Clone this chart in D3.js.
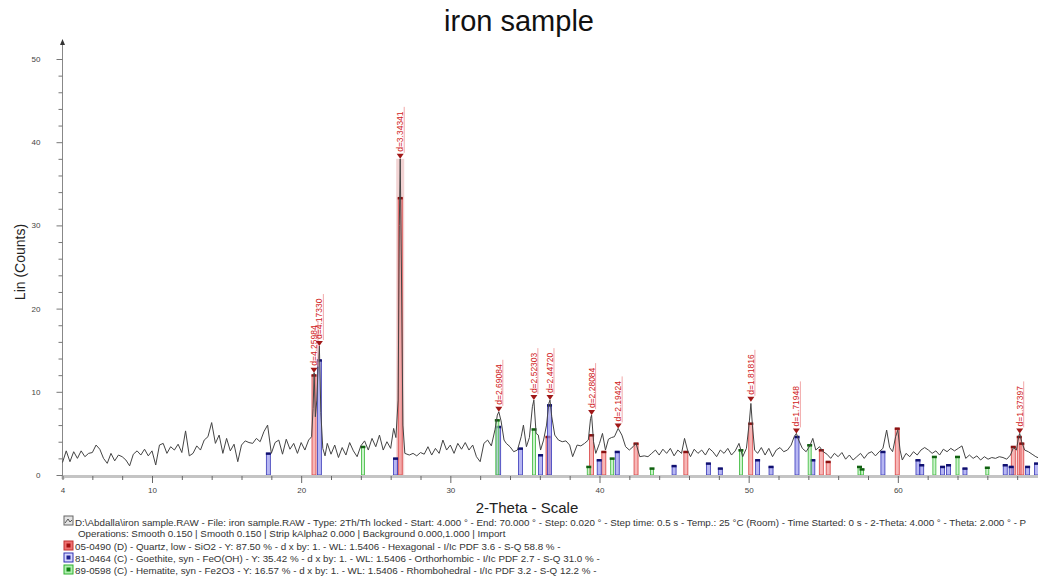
<!DOCTYPE html>
<html><head><meta charset="utf-8">
<script src="https://cdn.jsdelivr.net/npm/d3@7"></script>
<style>body{margin:0;background:#fff}svg{display:block;font-family:"Liberation Sans",Arial,sans-serif}</style>
</head><body>
<svg id="chart" width="1038" height="586"></svg>
<script>
// ---- data ----
const title = "iron sample";
const xLabel = "2-Theta - Scale";
const yLabel = "Lin (Counts)";
const xTickLabels = [4, 10, 20, 30, 40, 50, 60];
const yTickLabels = [0, 10, 20, 30, 40, 50];

// measured scan: [2-theta, counts]
const scan = [
[4.0,1.5],[4.25,2.9],[4.5,1.6],[4.75,2.8],[5.0,2.0],[5.25,2.9],[5.5,2.2],[5.75,2.6],
[6.0,2.7],[6.25,3.6],[6.5,3.1],[6.75,2.0],[7.0,1.4],[7.25,2.6],[7.5,1.7],[7.75,2.4],
[8.0,2.2],[8.25,1.8],[8.5,1.1],[8.75,2.5],[9.0,2.9],[9.25,2.4],[9.5,3.1],[9.75,2.3],
[10.0,2.9],[10.25,1.2],[10.5,3.6],[10.75,3.8],[11.0,2.6],[11.25,3.4],[11.5,3.0],[11.75,3.7],
[12.0,2.7],[12.25,5.3],[12.5,2.3],[12.75,2.6],[13.0,3.5],[13.25,3.0],[13.5,4.2],[13.75,4.6],
[14.0,6.3],[14.25,3.8],[14.5,4.8],[14.75,2.6],[15.0,4.4],[15.25,2.9],[15.5,3.7],[15.75,1.6],
[16.0,3.6],[16.25,4.1],[16.5,3.9],[16.75,3.8],[17.0,4.4],[17.25,4.0],[17.5,5.2],[17.75,6.0],
[18.0,2.6],[18.25,3.9],[18.5,4.2],[18.75,2.5],[19.0,4.3],[19.25,3.1],[19.5,3.8],[19.75,2.6],
[20.0,3.9],[20.25,3.0],[20.5,4.2],[20.7,4.6],[20.8,8.0],[20.87,12.3],[20.95,7.0],[21.05,9.0],
[21.15,13.8],[21.22,15.5],[21.32,7.5],[21.45,3.2],[21.6,2.3],[21.75,3.8],[22.0,2.5],[22.25,3.6],
[22.5,2.1],[22.75,3.3],[23.0,2.4],[23.25,3.9],[23.5,2.9],[23.75,2.2],[24.0,3.5],[24.25,4.1],
[24.5,3.0],[24.75,4.4],[25.0,3.4],[25.25,4.8],[25.5,3.0],[25.75,4.0],[26.0,3.2],[26.2,5.6],
[26.35,4.5],[26.5,9.0],[26.58,30.0],[26.64,38.0],[26.72,25.0],[26.82,6.0],[26.95,2.6],[27.25,2.4],
[27.5,2.6],[27.75,2.3],[28.0,2.7],[28.25,2.5],[28.5,3.4],[28.75,2.4],[29.0,3.2],[29.25,2.6],
[29.5,4.2],[29.75,3.0],[30.0,3.6],[30.25,2.6],[30.5,3.8],[30.75,3.1],[31.0,3.9],[31.25,3.0],
[31.5,3.6],[31.75,2.2],[32.0,1.6],[32.25,3.8],[32.5,4.2],[32.75,3.5],[33.0,5.5],[33.15,7.2],
[33.25,7.6],[33.4,6.5],[33.6,4.2],[33.75,3.8],[34.0,3.4],[34.25,2.8],[34.5,3.0],[34.75,4.6],
[34.9,6.0],[35.1,3.4],[35.3,4.5],[35.5,8.2],[35.6,9.0],[35.75,5.0],[35.9,4.8],[36.05,3.0],
[36.25,4.2],[36.45,6.0],[36.6,8.6],[36.68,9.0],[36.8,7.0],[37.0,4.8],[37.25,4.2],[37.5,4.0],
[37.75,4.1],[38.0,3.6],[38.2,2.2],[38.5,3.6],[38.75,3.5],[39.0,3.8],[39.25,4.2],[39.4,6.8],
[39.47,7.2],[39.6,4.0],[39.75,2.6],[40.0,3.8],[40.2,5.0],[40.4,3.0],[40.6,4.3],[40.8,4.5],
[41.0,4.6],[41.25,5.6],[41.5,4.8],[41.75,3.4],[42.0,3.0],[42.25,3.4],[42.45,3.8],[42.7,2.2],
[43.0,2.3],[43.25,2.2],[43.5,2.6],[43.75,3.0],[44.0,2.4],[44.25,3.1],[44.5,2.6],[44.75,3.2],
[45.0,2.3],[45.25,3.0],[45.5,2.6],[45.7,4.4],[45.9,3.0],[46.1,2.2],[46.35,3.1],[46.6,2.6],
[46.85,3.0],[47.1,2.4],[47.35,3.2],[47.6,2.8],[47.85,2.2],[48.1,3.0],[48.35,2.6],[48.6,3.2],
[48.85,2.4],[49.1,2.9],[49.35,3.8],[49.6,2.2],[49.85,3.2],[50.05,6.5],[50.15,8.6],[50.25,6.0],
[50.4,3.0],[50.6,2.6],[50.85,3.3],[51.1,2.4],[51.35,3.2],[51.6,2.2],[51.85,3.0],[52.1,3.3],
[52.35,2.8],[52.6,3.0],[52.85,3.6],[53.05,4.6],[53.2,5.0],[53.35,4.2],[53.6,3.2],[53.85,2.8],
[54.1,3.5],[54.3,4.4],[54.5,3.0],[54.75,3.4],[55.0,2.8],[55.25,2.5],[55.5,2.0],[55.75,2.6],
[56.0,2.2],[56.25,2.7],[56.5,1.9],[56.75,2.4],[57.0,1.8],[57.25,2.2],[57.5,2.6],[57.75,2.0],
[58.0,2.6],[58.25,2.8],[58.5,2.3],[58.75,2.8],[59.0,3.2],[59.25,5.4],[59.45,3.3],[59.65,2.8],
[59.85,4.6],[60.0,5.4],[60.15,3.0],[60.3,1.8],[60.55,2.6],[60.8,2.2],[61.05,2.8],[61.3,2.4],
[61.55,3.0],[61.8,3.3],[62.05,3.0],[62.3,2.6],[62.55,2.9],[62.8,2.4],[63.05,3.1],[63.3,2.8],
[63.55,3.2],[63.8,2.9],[64.05,3.2],[64.3,3.5],[64.55,2.0],[64.8,2.4],[65.05,2.0],[65.3,2.3],
[65.55,1.8],[65.8,2.2],[66.05,1.9],[66.3,2.1],[66.55,2.0],[66.8,2.2],[67.05,2.1],[67.3,1.9],
[67.55,2.4],[67.75,3.3],[67.95,3.0],[68.1,4.6],[68.17,5.0],[68.3,4.0],[68.5,3.0],[68.75,2.8],
[69.0,2.5],[69.25,2.2],[69.5,2.0],[69.75,2.3],[70.0,2.1]
];

// reference patterns: [2-theta, height]
const quartzSticks = [[20.86,12.0],[26.64,33.3],[36.55,4.6],[39.47,4.8],[40.29,2.8],[42.45,3.8],[45.79,2.8],
  [50.14,6.2],[54.87,3.0],[55.33,1.6],[59.96,5.6],[67.74,3.4],[68.14,4.6],[68.31,3.8]];
const goethiteSticks = [[17.8,2.6],[21.22,13.8],[26.33,2.0],[33.24,5.8],[34.7,3.2],[36.05,2.4],[36.65,8.4],
  [39.98,1.8],[41.19,2.8],[45.0,1.1],[47.3,1.4],[48.1,0.8],[50.6,1.8],[51.5,1.0],[53.24,4.6],[54.3,1.8],
  [59.0,2.8],[61.35,1.8],[61.6,1.2],[63.0,1.0],[63.4,1.2],[64.5,0.8],[67.2,1.2],[67.6,1.0],[68.7,1.0],[69.3,1.4]];
const hematiteSticks = [[24.14,3.4],[33.15,6.6],[35.61,5.5],[39.28,1.0],[40.85,2.0],[43.52,0.8],[49.48,3.0],
  [54.09,3.6],[57.43,1.0],[57.6,0.7],[62.45,2.2],[64.0,2.2],[66.0,0.9]];

// peak labels
const peakTheta  = [20.86, 21.22, 26.64, 33.25, 35.6, 36.68, 39.47, 41.25, 50.15, 53.2, 68.17];
const peakHeight = [12.3, 15.5, 38.0, 7.6, 9.0, 9.0, 7.2, 5.6, 8.8, 5.0, 5.0];
const peakText   = ["d=4.25984","d=4.17330","d=3.34341","d=2.69084","d=2.52303","d=2.44720",
                    "d=2.28084","d=2.19424","d=1.81816","d=1.71948","d=1.37397"];

const legendLines = [
 "D:\\Abdalla\\iron sample.RAW - File: iron sample.RAW - Type: 2Th/Th locked - Start: 4.000 \u00b0 - End: 70.000 \u00b0 - Step: 0.020 \u00b0 - Step time: 0.5 s - Temp.: 25 \u00b0C (Room) - Time Started: 0 s - 2-Theta: 4.000 \u00b0 - Theta: 2.000 \u00b0 - P",
 "Operations: Smooth 0.150 | Smooth 0.150 | Strip kAlpha2 0.000 | Background 0.000,1.000 | Import",
 "05-0490 (D) - Quartz, low - SiO2 - Y: 87.50 % - d x by: 1. - WL: 1.5406 - Hexagonal - I/Ic PDF 3.6 - S-Q 58.8 % -",
 "81-0464 (C) - Goethite, syn - FeO(OH) - Y: 35.42 % - d x by: 1. - WL: 1.5406 - Orthorhombic - I/Ic PDF 2.7 - S-Q 31.0 % -",
 "89-0598 (C) - Hematite, syn - Fe2O3 - Y: 16.57 % - d x by: 1. - WL: 1.5406 - Rhombohedral - I/Ic PDF 3.2 - S-Q 12.2 % -"
];

// ---- drawing ----
const svg = d3.select("#chart");
const x = d3.scaleLinear().domain([4, 70]).range([62.5, 1047]);
const y = d3.scaleLinear().domain([0, 50]).range([475, 59]);

svg.append("rect").attr("width",1038).attr("height",586).attr("fill","#fff");

// title & labels
svg.append("text").attr("x",519).attr("y",31).attr("text-anchor","middle")
  .attr("font-size",29).attr("fill","#111").text(title);
svg.append("text").attr("transform","translate(25,262) rotate(-90)").attr("text-anchor","middle")
  .attr("font-size",14).attr("fill","#222").text(yLabel);
svg.append("text").attr("x",527).attr("y",513).attr("text-anchor","middle")
  .attr("font-size",15).attr("fill","#222").text(xLabel);

// main quartz peak band
svg.append("rect").attr("x", x(26.64)-4).attr("y", y(38)).attr("width",8).attr("height", y(0)-y(38))
  .attr("fill","#ecc0c0").attr("fill-opacity",0.7);

// sticks
const phases = [
  {data: quartzSticks, fill:"#f29090", stroke:"#d84040", cap:"#8a1010", w:4},
  {data: goethiteSticks, fill:"#9090ec", stroke:"#3838b8", cap:"#101070", w:4},
  {data: hematiteSticks, fill:"#b0ecb0", stroke:"#38b838", cap:"#106010", w:3}
];
phases.forEach(p => {
  const g = svg.append("g");
  g.selectAll("rect.stick").data(p.data).join("rect")
    .attr("x", d => x(d[0]) - p.w/2).attr("y", d => y(d[1]))
    .attr("width", p.w).attr("height", d => y(0) - y(d[1]))
    .attr("fill", p.fill).attr("fill-opacity",0.65).attr("stroke", p.stroke).attr("stroke-width",0.8);
  g.selectAll("rect.cap").data(p.data).join("rect")
    .attr("x", d => x(d[0]) - 2.5).attr("y", d => y(d[1]) - 1)
    .attr("width", 5).attr("height", 2.5).attr("fill", p.cap);
});

// x axis
const xAxis = d3.axisBottom(x).tickValues(d3.range(4, 71, 2))
  .tickFormat(d => xTickLabels.includes(d) ? d : "").tickSize(3).tickPadding(8);
const gx = svg.append("g").attr("transform","translate(0,476)").call(xAxis);
gx.select(".domain").attr("stroke","#c4c4c4").attr("stroke-width",3);
gx.selectAll(".tick line").attr("stroke","#666").attr("y2", d => d % 10 === 0 ? 7 : 4);
gx.selectAll(".tick text").attr("font-size",8).attr("fill","#444").attr("font-family","Liberation Sans, Arial");

// y axis
const yAxis = d3.axisLeft(y).tickValues(d3.range(0, 51, 2))
  .tickFormat(d => yTickLabels.includes(d) ? d : "").tickSize(5).tickPadding(17);
const gy = svg.append("g").attr("transform","translate(62.5,0)").call(yAxis);
gy.select(".domain").attr("stroke","#888").attr("d","M0,476V42");
gy.selectAll(".tick line").attr("stroke","#777").attr("x2", d => d % 10 === 0 ? -6 : -4);
gy.selectAll(".tick text").attr("font-size",8).attr("fill","#444").attr("font-family","Liberation Sans, Arial");
svg.append("path").attr("d","M60,45 L62.5,39 L65,45 Z").attr("fill","#333");

// scan line
svg.append("path").datum(scan)
  .attr("d", d3.line().x(d => x(d[0])).y(d => y(d[1])))
  .attr("fill","none").attr("stroke","#444").attr("stroke-width",1);

// peak labels
const peaks = peakTheta.map((t,i) => ({t, h: peakHeight[i], s: peakText[i]}));
const pg = svg.append("g");
peaks.forEach(p => {
  const px = x(p.t), py = y(p.h);
  pg.append("line").attr("x1", px+4).attr("x2", px+4).attr("y1", py-6).attr("y2", py-52)
    .attr("stroke","#f2a8a8").attr("stroke-width",1);
  pg.append("text").attr("transform", `translate(${px+3},${py-7}) rotate(-90)`)
    .attr("font-size",8.5).attr("fill","#d02020").text(p.s);
  pg.append("path").attr("d", `M${px-3.5},${py-5} L${px+3.5},${py-5} L${px},${py} Z`).attr("fill","#a01818");
});

// legend
const ly = [522, 533, 546, 558, 570];
const lg = svg.append("g").attr("font-size",9.8).attr("fill","#333");
legendLines.forEach((t,i) => {
  lg.append("text").attr("x", i === 1 ? 78 : 75).attr("y", ly[i] + 3.5).text(t);
});
// icons
const ic = svg.append("g");
ic.append("rect").attr("x",64).attr("y",516).attr("width",9).attr("height",9).attr("fill","#e4e4e4").attr("stroke","#666");
ic.append("path").attr("d","M65,523 L68,519 L70,522 L72,520").attr("stroke","#555").attr("fill","none");
const iconCols = [["#f07070","#a01010","#c03030"],["#d8d8ff","#202090","#3030b0"],["#b0f0b0","#108010","#30b030"]];
iconCols.forEach((c,i) => {
  const yy = ly[i+2] - 5;
  ic.append("rect").attr("x",64).attr("y",yy).attr("width",9).attr("height",9).attr("fill",c[0]).attr("stroke",c[2]);
  ic.append("rect").attr("x",66.5).attr("y",yy+2.5).attr("width",4).attr("height",4).attr("fill",c[1]);
});
</script>
</body></html>
